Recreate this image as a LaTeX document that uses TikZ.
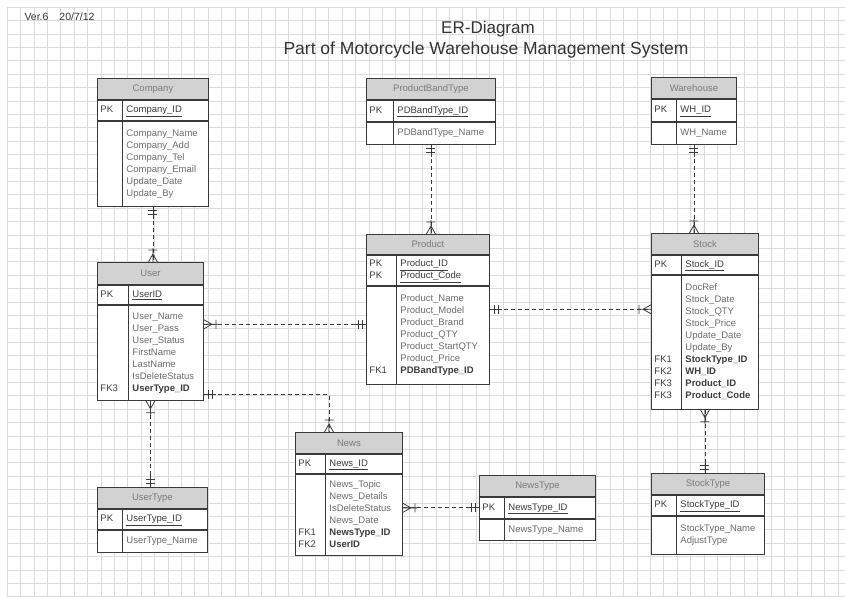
\documentclass[tikz,border=0pt]{standalone}
\usepackage{fontspec}
\setmainfont{Liberation Sans}
\usetikzlibrary{decorations.markings}

\definecolor{linec}{HTML}{3A3A3A}
\definecolor{hdrfill}{HTML}{D2D2D2}
\definecolor{hdrtext}{HTML}{7A7A7A}
\definecolor{attrc}{HTML}{6C6C6C}
\definecolor{keyc}{HTML}{3C3C3C}
\definecolor{gridc}{HTML}{DCDCDC}
\definecolor{titlec}{HTML}{333333}

\newcommand{\kt}[1]{\textcolor{keyc}{#1}}
\newcommand{\pkt}[1]{\textcolor{keyc}{\underline{#1}}}
\newcommand{\fkt}[1]{\textcolor{keyc}{\textbf{#1}}}
\newenvironment{cols}[1]{\begin{tabular}{@{}p{#1}@{}l@{}}}{\end{tabular}}

\tikzset{
  gridline/.style={draw=gridc, line width=0.5pt},
  hdr/.style={draw=linec, line width=0.9pt, fill=hdrfill, text=hdrtext, anchor=north west,
    inner sep=0pt, font=\fontsize{9.5}{12}\selectfont},
  sect/.style={draw=linec, line width=0.9pt, fill=white, anchor=north west, inner xsep=3pt,
    inner ysep=0pt, align=left, text=attrc, font=\fontsize{9.5}{12}\selectfont},
  tipline/.style={solid, draw=linec, line width=0.8pt},
  rel/.style={draw=linec, line width=0.8pt, dash pattern=on 4pt off 3pt},
  onestart/.style={postaction={decorate, decoration={markings, mark=at position 12pt with
    {\draw[tipline] (-12pt,0) -- (0,0) (-8pt,-4.5pt) -- (-8pt,4.5pt) (-4pt,-4.5pt) -- (-4pt,4.5pt);}}}},
  oneend/.style={postaction={decorate, decoration={markings, mark=at position -12pt with
    {\draw[tipline] (0,0) -- (12pt,0) (4pt,-4.5pt) -- (4pt,4.5pt) (8pt,-4.5pt) -- (8pt,4.5pt);}}}},
  manystart/.style={postaction={decorate, decoration={markings, mark=at position 14pt with
    {\draw[tipline] (-14pt,0) -- (0,0) (-2pt,-4.5pt) -- (-2pt,4.5pt)
       (-6pt,0) -- (-14pt,-4.5pt) (-6pt,0) -- (-14pt,4.5pt);}}}},
  manyend/.style={postaction={decorate, decoration={markings, mark=at position -14pt with
    {\draw[tipline] (0,0) -- (14pt,0) (2pt,-4.5pt) -- (2pt,4.5pt)
       (6pt,0) -- (14pt,-4.5pt) (6pt,0) -- (14pt,4.5pt);}}}},
}

\begin{document}
\begin{tikzpicture}[x=1pt, y=-1pt]
  \useasboundingbox (0,0) rectangle (845,597);
  \fill[white] (0,0) rectangle (845,597);

  % grid paper
  \foreach \gx in {7,20.4,...,845} \draw[gridline] (\gx,7) -- (\gx,597);
  \foreach \gy in {7,20.4,...,597} \draw[gridline] (7,\gy) -- (845,\gy);

  \node[anchor=west, text=titlec, font=\fontsize{10.5}{12}\selectfont] (ver) at (21,17) {Ver.6\hspace{11pt}20/7/12};
  \node[text=titlec, font=\fontsize{17}{20}\selectfont] (title) at (488,29) {ER-Diagram};
  \node[text=titlec, font=\fontsize{17.5}{20}\selectfont] (subtitle) at (486,50) {Part of Motorcycle Warehouse Management System};

  % Company
  \node[hdr, minimum width=111pt, minimum height=21pt] (comp-h) at (97,78) {Company};
  \node[sect, text width=105pt, minimum height=20pt] (comp-k) at (comp-h.south west)
    {\begin{cols}{26pt}\kt{PK} & \pkt{Company\_ID}\end{cols}};
  \node[sect, text width=105pt, minimum height=85pt] (comp-a) at (comp-k.south west)
    {\begin{cols}{26pt} & Company\_Name\\ & Company\_Add\\ & Company\_Tel\\ & Company\_Email\\
      & Update\_Date\\ & Update\_By\end{cols}};

  % ProductBandType
  \node[hdr, minimum width=129pt, minimum height=21pt] (pbt-h) at (366,78) {ProductBandType};
  \node[sect, text width=123pt, minimum height=21pt] (pbt-k) at (pbt-h.south west)
    {\begin{cols}{28pt}\kt{PK} & \pkt{PDBandType\_ID}\end{cols}};
  \node[sect, text width=123pt, minimum height=22pt] (pbt-a) at (pbt-k.south west)
    {\begin{cols}{28pt} & PDBandType\_Name\end{cols}};

  % Warehouse
  \node[hdr, minimum width=85pt, minimum height=21pt] (wh-h) at (651,77) {Warehouse};
  \node[sect, text width=79pt, minimum height=22pt] (wh-k) at (wh-h.south west)
    {\begin{cols}{26pt}\kt{PK} & \pkt{WH\_ID}\end{cols}};
  \node[sect, text width=79pt, minimum height=22pt] (wh-a) at (wh-k.south west)
    {\begin{cols}{26pt} & WH\_Name\end{cols}};

  % Product
  \node[hdr, minimum width=123pt, minimum height=20pt] (prod-h) at (366,234) {Product};
  \node[sect, text width=117pt, minimum height=30pt] (prod-k) at (prod-h.south west)
    {\begin{cols}{31pt}\kt{PK} & \pkt{Product\_ID}\\ \kt{PK} & \pkt{Product\_Code}\end{cols}};
  \node[sect, text width=117pt, minimum height=98pt] (prod-a) at (prod-k.south west)
    {\begin{cols}{31pt} & Product\_Name\\ & Product\_Model\\ & Product\_Brand\\ & Product\_QTY\\
      & Product\_StartQTY\\ & Product\_Price\\ \kt{FK1} & \fkt{PDBandType\_ID}\end{cols}};

  % Stock
  \node[hdr, minimum width=107pt, minimum height=21pt] (stock-h) at (651,233) {Stock};
  \node[sect, text width=101pt, minimum height=19pt] (stock-k) at (stock-h.south west)
    {\begin{cols}{31pt}\kt{PK} & \pkt{Stock\_ID}\end{cols}};
  \node[sect, text width=101pt, minimum height=134pt] (stock-a) at (stock-k.south west)
    {\begin{cols}{31pt} & DocRef\\ & Stock\_Date\\ & Stock\_QTY\\ & Stock\_Price\\ & Update\_Date\\
      & Update\_By\\ \kt{FK1} & \fkt{StockType\_ID}\\ \kt{FK2} & \fkt{WH\_ID}\\
      \kt{FK3} & \fkt{Product\_ID}\\ \kt{FK3} & \fkt{Product\_Code}\end{cols}};

  % User
  \node[hdr, minimum width=106pt, minimum height=22pt] (user-h) at (97,262) {User};
  \node[sect, text width=100pt, minimum height=19pt] (user-k) at (user-h.south west)
    {\begin{cols}{32pt}\kt{PK} & \pkt{UserID}\end{cols}};
  \node[sect, text width=100pt, minimum height=95pt] (user-a) at (user-k.south west)
    {\begin{cols}{32pt} & User\_Name\\ & User\_Pass\\ & User\_Status\\ & FirstName\\ & LastName\\
      & IsDeleteStatus\\ \kt{FK3} & \fkt{UserType\_ID}\end{cols}};

  % News
  \node[hdr, minimum width=107pt, minimum height=21pt] (news-h) at (295,432) {News};
  \node[sect, text width=101pt, minimum height=19pt] (news-k) at (news-h.south west)
    {\begin{cols}{31pt}\kt{PK} & \pkt{News\_ID}\end{cols}};
  \node[sect, text width=101pt, minimum height=81pt] (news-a) at (news-k.south west)
    {\begin{cols}{31pt} & News\_Topic\\ & News\_Details\\ & IsDeleteStatus\\ & News\_Date\\
      \kt{FK1} & \fkt{NewsType\_ID}\\ \kt{FK2} & \fkt{UserID}\end{cols}};

  % NewsType
  \node[hdr, minimum width=116pt, minimum height=21pt] (nt-h) at (479,475) {NewsType};
  \node[sect, text width=110pt, minimum height=21pt] (nt-k) at (nt-h.south west)
    {\begin{cols}{26pt}\kt{PK} & \pkt{NewsType\_ID}\end{cols}};
  \node[sect, text width=110pt, minimum height=21pt] (nt-a) at (nt-k.south west)
    {\begin{cols}{26pt} & NewsType\_Name\end{cols}};

  % StockType
  \node[hdr, minimum width=113pt, minimum height=21pt] (st-h) at (651,473) {StockType};
  \node[sect, text width=107pt, minimum height=20pt] (st-k) at (st-h.south west)
    {\begin{cols}{26pt}\kt{PK} & \pkt{StockType\_ID}\end{cols}};
  \node[sect, text width=107pt, minimum height=38pt] (st-a) at (st-k.south west)
    {\begin{cols}{26pt} & StockType\_Name\\ & AdjustType\end{cols}};

  % UserType
  \node[hdr, minimum width=110pt, minimum height=21pt] (ut-h) at (97,487) {UserType};
  \node[sect, text width=104pt, minimum height=20pt] (ut-k) at (ut-h.south west)
    {\begin{cols}{26pt}\kt{PK} & \pkt{UserType\_ID}\end{cols}};
  \node[sect, text width=104pt, minimum height=22pt] (ut-a) at (ut-k.south west)
    {\begin{cols}{26pt} & UserType\_Name\end{cols}};

  % key column dividers and key/attribute separators
  \foreach \t/\k in {comp/25, pbt/27, wh/25, prod/30, stock/30, user/31, news/30, nt/25, st/25, ut/25} {
    \draw[draw=linec, line width=0.9pt] ([xshift=\k pt]\t-k.north west) -- ([xshift=\k pt]\t-a.south west);
    \draw[draw=linec, line width=1.6pt] (\t-k.south west) -- (\t-k.south east);
  }

  % relationships
  \draw[rel, onestart, manyend] (comp-a.south) -- (comp-a.south |- user-h.north);
  \draw[rel, onestart, manyend] (pbt-a.south) -- (pbt-a.south |- prod-h.north);
  \draw[rel, onestart, manyend] (wh-a.south) -- (wh-a.south |- stock-h.north);
  \draw[rel, manystart, oneend] ([yshift=28.5pt]user-a.east) -- ([yshift=28.5pt]user-a.east -| prod-a.west);
  \draw[rel, onestart, manyend] ([yshift=26pt]prod-a.east) -- ([yshift=26pt]prod-a.east -| stock-a.west);
  \draw[rel, onestart, manyend] ([yshift=6pt]user-a.south east) -| ([xshift=34pt]news-h.north west);
  \draw[rel, manystart, oneend] (user-a.south) -- (user-a.south |- ut-h.north);
  \draw[rel, manystart, oneend] (stock-a.south) -- (stock-a.south |- st-h.north);
  \draw[rel, manystart, oneend] (news-a.east |- nt-k.west) -- (nt-k.west);
\end{tikzpicture}
\end{document}
